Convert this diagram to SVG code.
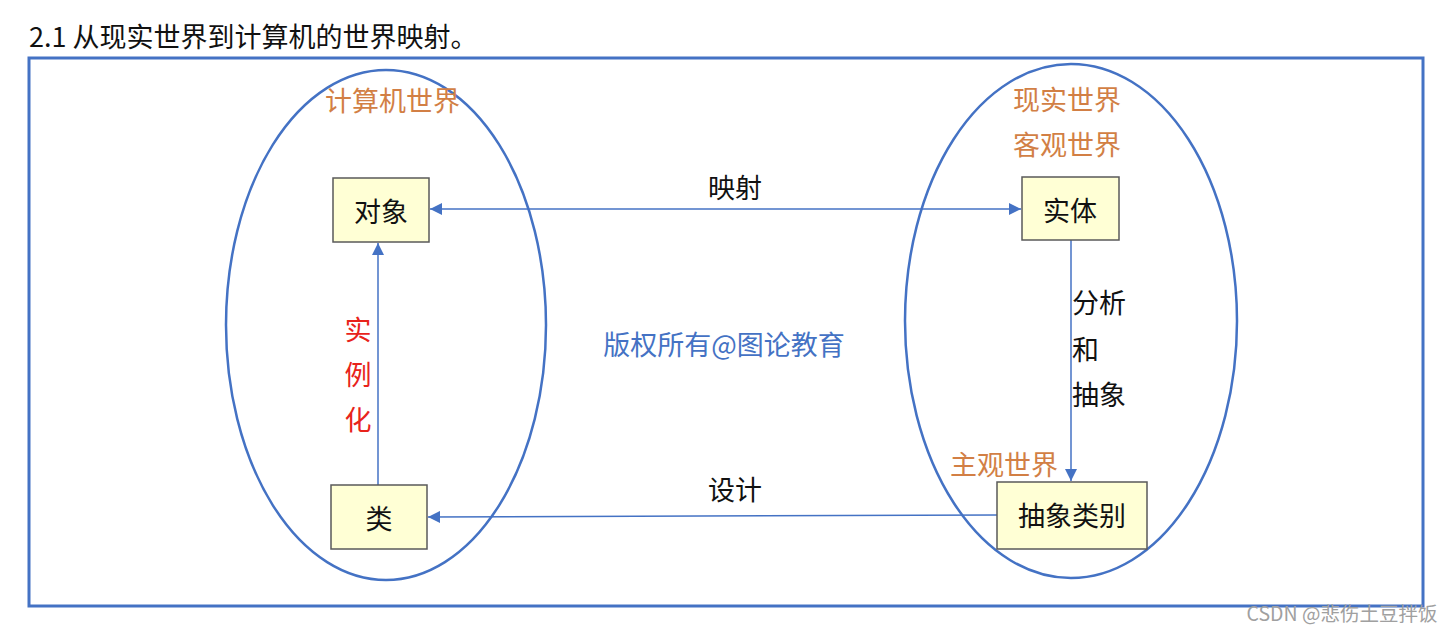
<svg xmlns="http://www.w3.org/2000/svg" width="1453" height="635" viewBox="0 0 1453 635">
<defs>
<style>
text{font-family:"Noto Sans CJK SC","Liberation Sans",sans-serif;}
.t{font-size:27px;fill:#111;}
.or{font-size:27px;fill:#D27F45;}
.box{fill:#FFFFD5;stroke:#5a5a5a;stroke-width:1.5;}
.ell{fill:none;stroke:#4472C4;stroke-width:2.5;}
.ln{stroke:#4472C4;stroke-width:1.5;fill:none;}
</style>
<marker id="ah" viewBox="0 0 10 10" refX="10" refY="5" markerWidth="12" markerHeight="12" markerUnits="userSpaceOnUse" orient="auto-start-reverse">
<path d="M0,0 L10,5 L0,10 z" fill="#4472C4"/>
</marker>
</defs>
<rect width="1453" height="635" fill="#fff"/>
<text x="29" y="47" style="font-size:27px;fill:#111">2.1 从现实世界到计算机的世界映射。</text>
<rect x="29" y="58" width="1394" height="548" fill="none" stroke="#4472C4" stroke-width="3"/>
<g id="computer-world">
<ellipse class="ell" cx="386" cy="325" rx="160" ry="255"/>
<text class="or" x="325" y="111">计算机世界</text>
</g>
<g id="real-world">
<ellipse class="ell" cx="1071" cy="321" rx="166" ry="257"/>
<text class="or" x="1013" y="110">现实世界</text>
<text class="or" x="1013" y="155">客观世界</text>
<text class="or" x="950" y="475">主观世界</text>
</g>
<g id="connectors">
<line class="ln" x1="430" y1="209" x2="1021" y2="209" marker-start="url(#ah)" marker-end="url(#ah)"/>
<text class="t" x="735" y="198" text-anchor="middle">映射</text>
<line class="ln" x1="378" y1="485" x2="378" y2="243" marker-end="url(#ah)"/>
<line class="ln" x1="1071" y1="240" x2="1071" y2="481" marker-end="url(#ah)"/>
<line class="ln" x1="997" y1="515" x2="428" y2="517" marker-end="url(#ah)"/>
<text class="t" x="735" y="500" text-anchor="middle">设计</text>
<text x="358" y="340" style="font-size:27px;fill:#E8231B" text-anchor="middle">实</text>
<text x="358" y="385" style="font-size:27px;fill:#E8231B" text-anchor="middle">例</text>
<text x="358" y="430" style="font-size:27px;fill:#E8231B" text-anchor="middle">化</text>
<text class="t" x="1072" y="313">分析</text>
<text class="t" x="1072" y="360">和</text>
<text class="t" x="1072" y="405">抽象</text>
</g>
<g id="node-object">
<rect class="box" x="333" y="178" width="96" height="64"/>
<text class="t" x="381" y="222" text-anchor="middle">对象</text>
</g>
<g id="node-entity">
<rect class="box" x="1022" y="177" width="97" height="63"/>
<text class="t" x="1070" y="221" text-anchor="middle">实体</text>
</g>
<g id="node-class">
<rect class="box" x="331" y="485" width="96" height="64"/>
<text class="t" x="379" y="529" text-anchor="middle">类</text>
</g>
<g id="node-abstract">
<rect class="box" x="997" y="482" width="150" height="67"/>
<text class="t" x="1072" y="526" text-anchor="middle">抽象类别</text>
</g>
<text x="724" y="355" style="font-size:27px;fill:#4472C4" text-anchor="middle">版权所有@图论教育</text>
<text x="1342" y="621" style="font-size:19.5px;fill:#a0a0a0" text-anchor="middle">CSDN @悲伤土豆拌饭</text>
</svg>
